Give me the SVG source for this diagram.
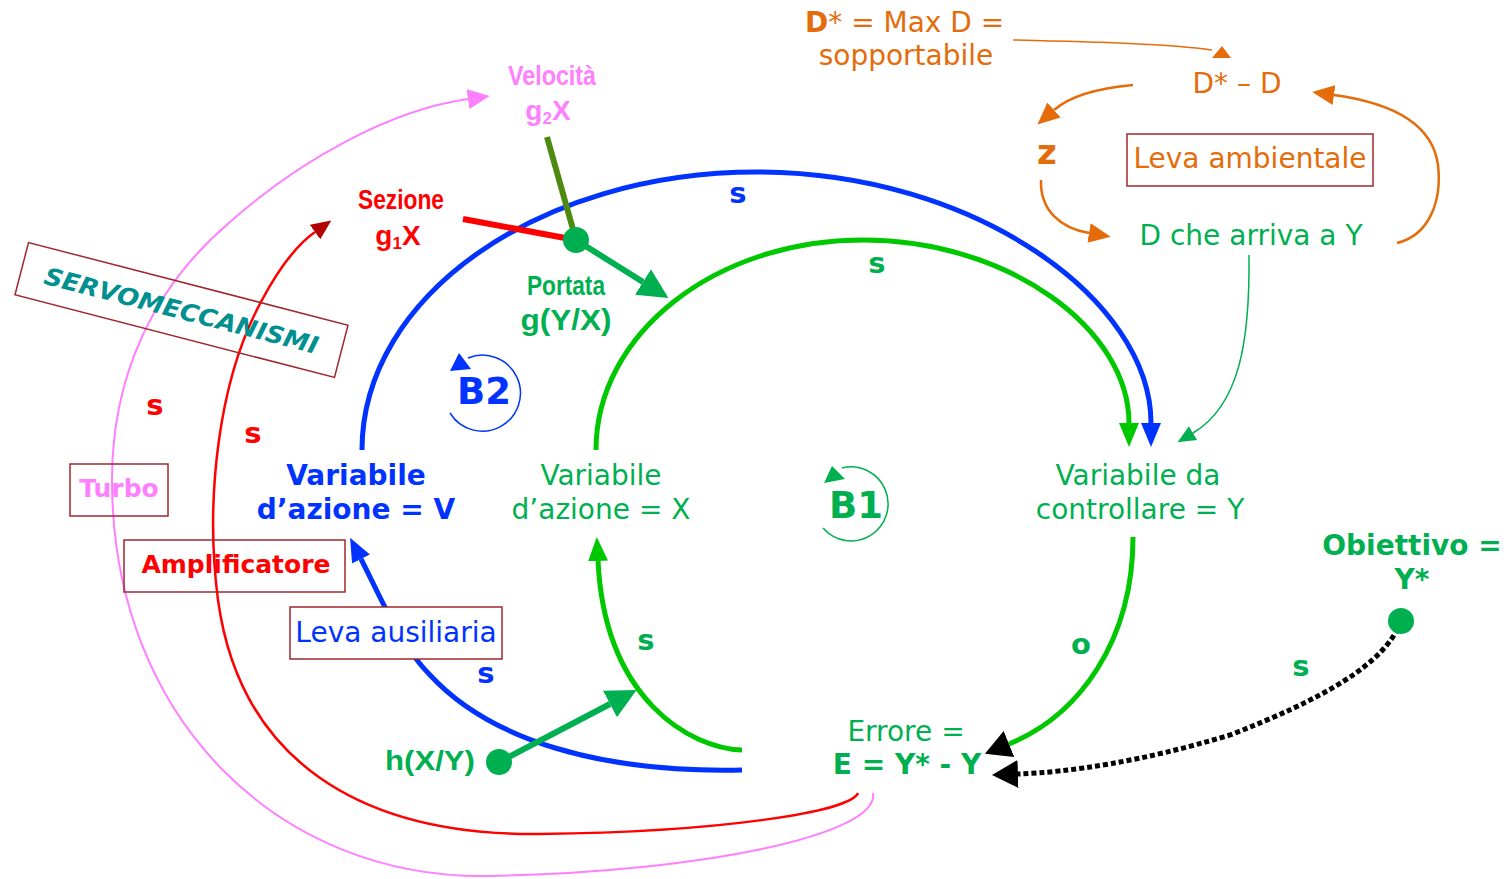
<svg xmlns="http://www.w3.org/2000/svg" width="1509" height="879" viewBox="0 0 1509 879">
  <style>
    text { font-family: "DejaVu Sans", Verdana, sans-serif; }
    .narrow { font-family: "Liberation Sans Narrow", "Liberation Sans", Arial, sans-serif; font-weight: bold; }
    .arial { font-family: "Liberation Sans", Arial, sans-serif; font-weight: bold; }
    .b { font-weight: bold; }
    .mid { text-anchor: middle; }
    .blue { fill: #0033ff; }
    .tgreen { fill: #00b050; }
    .red { fill: #ff0000; }
    .pink { fill: #ff80ff; }
    .orange { fill: #e46c0a; }
    .box { fill: none; stroke: #a0282d; stroke-width: 1.5; }
    .lp { fill: none; stroke-width: 5; }
    .thin { fill: none; stroke-width: 2.5; }
  </style>
  <defs>
    <marker id="ah-blue" markerUnits="userSpaceOnUse" viewBox="0 0 24 20" refX="0" refY="10" markerWidth="24" markerHeight="20" orient="auto">
      <path d="M0,0 L24,10 L0,20 z" fill="#0033ff"/>
    </marker>
    <marker id="ah-green" markerUnits="userSpaceOnUse" viewBox="0 0 24 20" refX="0" refY="10" markerWidth="24" markerHeight="20" orient="auto">
      <path d="M0,0 L24,10 L0,20 z" fill="#00c800"/>
    </marker>
    <marker id="ah-dgreen" markerUnits="userSpaceOnUse" viewBox="0 0 30 30" refX="0" refY="15" markerWidth="30" markerHeight="30" orient="auto">
      <path d="M0,0 L30,15 L0,30 z" fill="#00b050"/>
    </marker>
    <marker id="ah-tgreen" markerUnits="userSpaceOnUse" viewBox="0 0 18 16" refX="0" refY="8" markerWidth="18" markerHeight="16" orient="auto">
      <path d="M0,0 L18,8 L0,16 z" fill="#00b050"/>
    </marker>
    <marker id="ah-black" markerUnits="userSpaceOnUse" viewBox="0 0 26 28" refX="0" refY="14" markerWidth="26" markerHeight="28" orient="auto">
      <path d="M0,0 L26,14 L0,28 z" fill="#000"/>
    </marker>
    <marker id="ah-red" markerUnits="userSpaceOnUse" viewBox="0 0 20 18" refX="0" refY="9" markerWidth="20" markerHeight="18" orient="auto">
      <path d="M0,0 L20,9 L0,18 z" fill="#b00000"/>
    </marker>
    <marker id="ah-pink" markerUnits="userSpaceOnUse" viewBox="0 0 22 20" refX="0" refY="10" markerWidth="22" markerHeight="20" orient="auto">
      <path d="M0,0 L22,10 L0,20 z" fill="#ff80ff"/>
    </marker>
    <marker id="ah-orange" markerUnits="userSpaceOnUse" viewBox="0 0 22 20" refX="0" refY="10" markerWidth="22" markerHeight="20" orient="auto">
      <path d="M0,0 L22,10 L0,20 z" fill="#e46c0a"/>
    </marker>
  </defs>

  <!-- connectors -->
  <g id="connectors">
    <!-- outer servo loops -->
    <path d="M873,793 C880,835 700,872 490,876 C280,880 112,720 112,480 C112,380 150,290 230,222 C300,160 390,110 468,99" fill="none" stroke="#ff80ff" stroke-width="2" marker-end="url(#ah-pink)"/>
    <path d="M858,793 C850,812 720,832 540,834 C360,836 240,760 218,600 C205,500 218,380 262,300 C278,270 294,247 315,232" fill="none" stroke="#ff0000" stroke-width="2.5" marker-end="url(#ah-red)"/>

    <!-- B2 loop -->
    <path class="lp" stroke="#0033ff" d="M362,450 C362,296 539,172 757,172 C975,172 1151,300 1151,423" marker-end="url(#ah-blue)"/>
    <path class="lp" stroke="#0033ff" d="M742,770 C600,773 490,740 430,675 C400,645 382,600 361,559" marker-end="url(#ah-blue)"/>

    <!-- B1 loop -->
    <path class="lp" stroke="#00c800" d="M596,450 C596,334 715,240 863,240 C1010,240 1129,330 1129,423" marker-end="url(#ah-green)"/>
    <path class="lp" stroke="#00c800" d="M742,750 C690,748 605,700 598,561" marker-end="url(#ah-green)"/>
    <path class="lp" stroke="#00c800" d="M1133,537 C1133,640 1080,715 1009,744" marker-end="url(#ah-black)"/>

    <!-- goal to error -->
    <path d="M1401,621 C1385,665 1320,700 1230,735 C1140,762 1070,772 1018,774" fill="none" stroke="#000" stroke-width="5" stroke-dasharray="5 3" marker-end="url(#ah-black)"/>

    <!-- disturbance lever -->
    <path d="M1013,40 C1100,42 1170,44 1212,50" fill="none" stroke="#e46c0a" stroke-width="1.5"/>
    <polygon points="1222,46 1212,58 1231,58" fill="#e46c0a"/>
    <path class="thin" stroke="#e46c0a" d="M1133,85 C1100,88 1070,96 1054,110" marker-end="url(#ah-orange)"/>
    <path class="thin" stroke="#e46c0a" d="M1041,180 C1040,210 1060,228 1089,233" marker-end="url(#ah-orange)"/>
    <path class="thin" stroke="#e46c0a" d="M1397,243 C1430,235 1442,200 1438,165 C1432,120 1385,102 1334,95" marker-end="url(#ah-orange)"/>
    <path d="M1249,255 C1250,340 1240,405 1193,433" fill="none" stroke="#00b050" stroke-width="1.5" marker-end="url(#ah-tgreen)"/>

    <!-- valve levers -->
    <line x1="547" y1="137" x2="576" y2="240" stroke="#4f8a10" stroke-width="6"/>
    <line x1="463" y1="219" x2="576" y2="240" stroke="#ff0000" stroke-width="6"/>
    <line x1="576" y1="240" x2="643" y2="282" stroke="#00b050" stroke-width="6" marker-end="url(#ah-dgreen)"/>
    <line x1="499" y1="762" x2="610" y2="704" stroke="#00b050" stroke-width="6" marker-end="url(#ah-dgreen)"/>

    <!-- polarity labels -->
    <g class="b" font-size="29">
      <text class="mid blue" x="738" y="203">s</text>
      <text class="mid tgreen" x="877" y="273">s</text>
      <text class="mid red" x="155" y="415">s</text>
      <text class="mid red" x="253" y="443">s</text>
      <text class="mid tgreen" x="646" y="650">s</text>
      <text class="mid tgreen" x="1081" y="654">o</text>
      <text class="mid tgreen" x="1301" y="676">s</text>
      <text class="mid blue" x="486" y="683">s</text>
    </g>
  </g>

  <!-- nodes -->
  <g id="node-velocita">
    <text class="narrow mid pink" x="552" y="85" font-size="28" textLength="88" lengthAdjust="spacingAndGlyphs">Velocità</text>
    <text class="narrow mid pink" x="548" y="120" font-size="28">g<tspan font-size="17" dy="4">2</tspan><tspan dy="-4">X</tspan></text>
  </g>
  <g id="node-sezione">
    <text class="narrow mid red" x="401" y="209" font-size="28" textLength="86" lengthAdjust="spacingAndGlyphs">Sezione</text>
    <text class="narrow mid red" x="398" y="245" font-size="28">g<tspan font-size="17" dy="4">1</tspan><tspan dy="-4">X</tspan></text>
  </g>
  <g id="node-portata">
    <circle cx="576" cy="240" r="13" fill="#00b050"/>
    <text class="narrow mid tgreen" x="566" y="295" font-size="28" textLength="78" lengthAdjust="spacingAndGlyphs">Portata</text>
    <text class="arial mid tgreen" x="566" y="330" font-size="29" textLength="91" lengthAdjust="spacingAndGlyphs">g(Y/X)</text>
  </g>
  <g id="node-hxy">
    <circle cx="499" cy="762" r="13" fill="#00b050"/>
    <text class="arial mid tgreen" x="430" y="770" font-size="28" textLength="90" lengthAdjust="spacingAndGlyphs">h(X/Y)</text>
  </g>
  <g id="node-servomeccanismi" transform="translate(181.5,310) rotate(14.5)">
    <rect x="-165" y="-27" width="330" height="54" class="box"/>
    <text class="mid" x="0" y="9" font-size="24" font-weight="bold" font-style="italic" fill="#009090" textLength="282" lengthAdjust="spacingAndGlyphs">SERVOMECCANISMI</text>
  </g>
  <g id="node-turbo">
    <rect x="70" y="464" width="98" height="52" class="box"/>
    <text class="b mid pink" x="119" y="497" font-size="25">Turbo</text>
  </g>
  <g id="node-amplificatore">
    <rect x="124" y="540" width="221" height="52" class="box"/>
    <text class="b mid red" x="236" y="573" font-size="25">Amplificatore</text>
  </g>
  <g id="node-leva-ausiliaria">
    <rect x="290" y="607" width="212" height="52" fill="#fff" stroke="#a0282d" stroke-width="1.5"/>
    <text class="mid blue" x="396" y="642" font-size="28">Leva ausiliaria</text>
  </g>
  <g id="node-v">
    <text class="b mid blue" x="356" y="485" font-size="28">Variabile</text>
    <text class="b mid blue" x="356" y="519" font-size="28">d’azione = V</text>
  </g>
  <g id="node-x">
    <text class="mid tgreen" x="601" y="485" font-size="28">Variabile</text>
    <text class="mid tgreen" x="601" y="519" font-size="28">d’azione = X</text>
  </g>
  <g id="node-y">
    <text class="mid tgreen" x="1138" y="485" font-size="28">Variabile da</text>
    <text class="mid tgreen" x="1140" y="519" font-size="28">controllare = Y</text>
  </g>
  <g id="node-errore">
    <text class="mid tgreen" x="906" y="741" font-size="28">Errore =</text>
    <text class="b mid tgreen" x="907" y="774" font-size="28">E = Y* - Y</text>
  </g>
  <g id="node-obiettivo">
    <text class="b mid tgreen" x="1412" y="555" font-size="28">Obiettivo =</text>
    <text class="b mid tgreen" x="1412" y="589" font-size="28">Y*</text>
    <circle cx="1401" cy="621" r="13" fill="#00b050"/>
  </g>
  <g id="node-b2">
    <path d="M468,358 A38,38 0 1 1 450,413" fill="none" stroke="#0033ff" stroke-width="1.5"/>
    <polygon points="450,371 459,353 471,369" fill="#0033ff"/>
    <text class="b mid blue" x="484" y="404" font-size="37">B2</text>
  </g>
  <g id="node-b1">
    <path d="M842,468 A37,37 0 1 1 823,528" fill="none" stroke="#00b050" stroke-width="1.5"/>
    <polygon points="824,483 832,466 845,479" fill="#00b050"/>
    <text class="b mid tgreen" x="856" y="518" font-size="37">B1</text>
  </g>
  <g id="node-dmax">
    <text class="orange" x="805" y="32" font-size="28"><tspan font-weight="bold">D</tspan>* = Max D =</text>
    <text class="mid orange" x="906" y="65" font-size="28">sopportabile</text>
  </g>
  <g id="node-dstar-d">
    <text class="mid orange" x="1237" y="93" font-size="28">D* – D</text>
  </g>
  <g id="node-z">
    <text class="b mid orange" x="1047" y="164" font-size="34">z</text>
  </g>
  <g id="node-leva-ambientale">
    <rect x="1127" y="134" width="246" height="52" class="box"/>
    <text class="mid orange" x="1250" y="168" font-size="28">Leva ambientale</text>
  </g>
  <g id="node-d-arriva">
    <text class="mid tgreen" x="1251" y="245" font-size="28">D che arriva a Y</text>
  </g>
</svg>
